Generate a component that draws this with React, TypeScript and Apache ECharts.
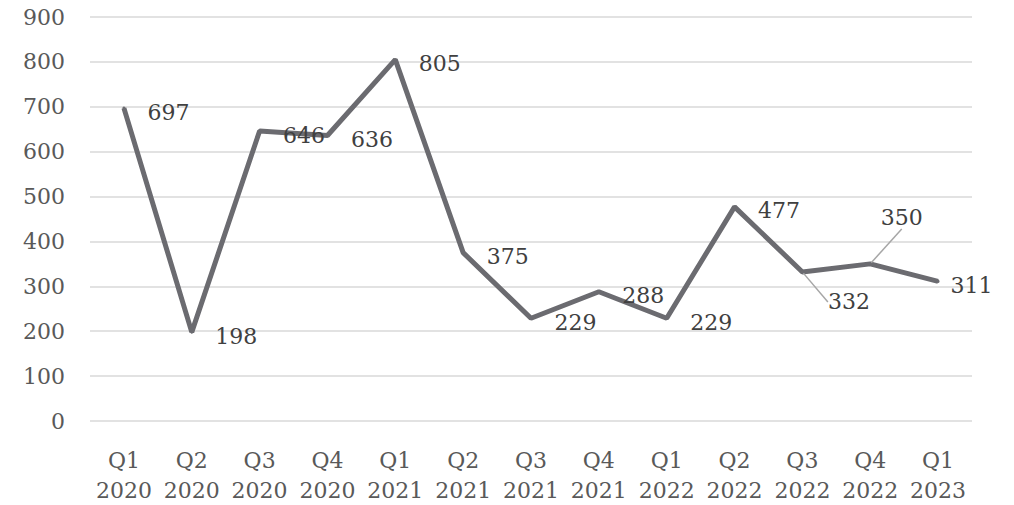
import React, { useEffect, useRef } from "react";
import * as echarts from "echarts";

const quarters = ["Q1", "Q2", "Q3", "Q4", "Q1", "Q2", "Q3", "Q4", "Q1", "Q2", "Q3", "Q4", "Q1"];
const years = ["2020", "2020", "2020", "2020", "2021", "2021", "2021", "2021", "2022", "2022", "2022", "2022", "2023"];
const values = [697, 198, 646, 636, 805, 375, 229, 288, 229, 477, 332, 350, 311];
const yTicks = { min: 0, max: 900, interval: 100 };

const FONT = "'DejaVu Serif', serif";

export default function App() {
  const ref = useRef<HTMLDivElement>(null);
  useEffect(() => {
    document.body.style.margin = "0";
    const chart = echarts.init(ref.current!, undefined, { renderer: "svg" });
    const categories = quarters.map((q, i) => q + "\n" + years[i]);
    const leader = { show: true, length: 0, lineStyle: { color: "#a6a6a6", width: 1.5 } };
    const data = values.map((v, i) =>
      i === 10 || i === 11 ? { value: v, labelLine: leader } : { value: v }
    );
    chart.setOption({
      animation: false,
      grid: { left: 90, right: 42, top: 17, bottom: 82 },
      xAxis: {
        type: "category",
        data: categories,
        boundaryGap: true,
        axisLine: { show: false },
        axisTick: { show: false },
        axisLabel: {
          color: "#595959",
          fontSize: 22,
          fontFamily: FONT,
          lineHeight: 30,
          margin: 24,
          interval: 0,
        },
      },
      yAxis: {
        type: "value",
        min: yTicks.min,
        max: yTicks.max,
        interval: yTicks.interval,
        axisLine: { show: false },
        axisTick: { show: false },
        splitLine: { lineStyle: { color: "#d9d9d9", width: 1.5 } },
        axisLabel: { color: "#595959", fontSize: 22, fontFamily: FONT, margin: 25 },
      },
      series: [
        {
          type: "line",
          data,
          symbol: "circle",
          symbolSize: 3,
          showSymbol: true,
          showAllSymbol: true,
          itemStyle: { color: "#6b6b70" },
          lineStyle: { color: "#6b6b70", width: 5 },
          label: {
            show: true,
            position: "right",
            distance: 22,
            color: "#404040",
            fontSize: 22,
            fontFamily: FONT,
          },
          labelLine: { show: false },
          labelLayout: (p: any) => {
            if (p.dataIndex === 10) return { dx: 2, dy: 30 };
            if (p.dataIndex === 11) return { dx: -13, dy: -46 };
            if (p.dataIndex === 12) return { dx: -11, dy: 4 };
            return { dy: 4 };
          },
        },
      ],
    });
    return () => chart.dispose();
  }, []);
  return <div ref={ref} style={{ width: 1014, height: 505 }} />;
}
